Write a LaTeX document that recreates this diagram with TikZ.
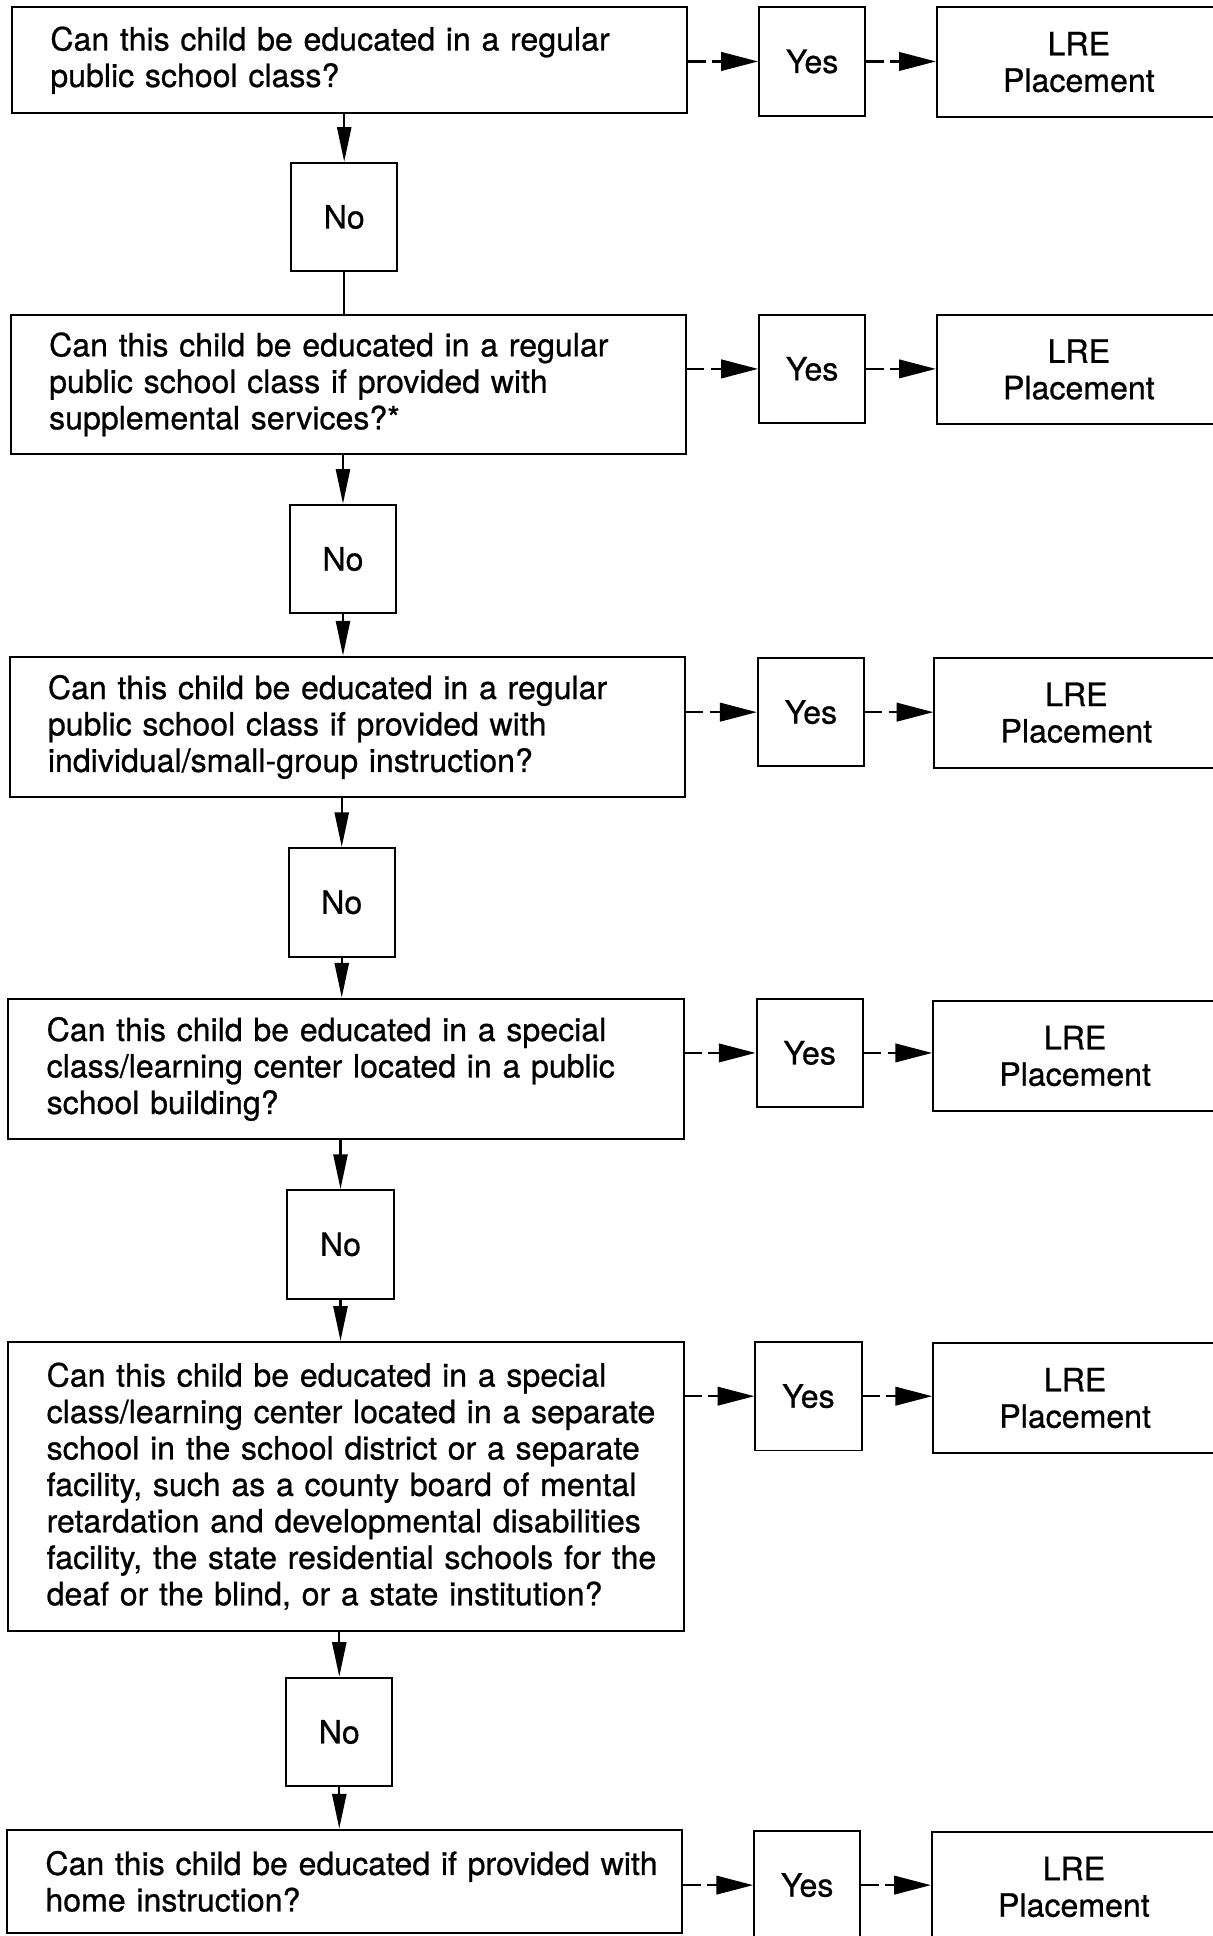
\documentclass[tikz,border=0pt]{standalone}
\usepackage{fontspec}
\setmainfont{TeX Gyre Heros}[FakeBold=0.7]
\usetikzlibrary{arrows.meta}
\begin{document}
\begin{tikzpicture}[x=0.02cm,y=-0.02cm,
  every node/.style={font=\fontsize{14.8}{16.8}\selectfont},
  box/.style={draw, line width=0.9pt, anchor=north west, inner sep=0pt},
  qbox/.style={box, align=left, text width=10.94cm},
  yesbox/.style={box, align=center, minimum width=1.72cm, minimum height=1.76cm},
  nobox/.style={box, align=center, minimum width=1.72cm, minimum height=1.76cm},
  lrebox/.style={box, align=center, minimum width=4.6cm, minimum height=1.78cm},
  varrow/.style={line width=1pt, -{Triangle[length=16pt,width=6.5pt]}},
  vline/.style={line width=1pt},
  harrow/.style={line width=1.2pt, dash pattern=on 8pt off 3pt, -{Triangle[length=17pt,width=8.5pt]}}
]
\useasboundingbox (0,0) rectangle (982,1568);

% Row 1
\node[qbox, minimum height=1.72cm] (q1) at (9,5) {\leftskip=0.62cm Can this child be educated in a regular\\public school class?\par};
\node[yesbox] (y1) at (614,5) {Yes};
\node[lrebox] (l1) at (758,5) {LRE\\Placement};
\node[nobox] (n1) at (235,131) {No};

% Row 2
\node[qbox, minimum height=2.26cm] (q2) at (8,254) {\leftskip=0.62cm Can this child be educated in a regular\\public school class if provided with\\supplemental services?*\par};
\node[yesbox] (y2) at (614,254) {Yes};
\node[lrebox] (l2) at (758,254) {LRE\\Placement};
\node[nobox] (n2) at (234,408) {No};

% Row 3
\node[qbox, minimum height=2.28cm] (q3) at (7,531) {\leftskip=0.62cm Can this child be educated in a regular\\public school class if provided with\\individual/small-group instruction?\par};
\node[yesbox] (y3) at (613,532) {Yes};
\node[lrebox] (l3) at (756,532) {LRE\\Placement};
\node[nobox] (n3) at (233,686) {No};

% Row 4
\node[qbox, minimum height=2.28cm] (q4) at (6,808) {\leftskip=0.62cm Can this child be educated in a special\\class/learning center located in a public\\school building?\par};
\node[yesbox] (y4) at (612,808) {Yes};
\node[lrebox] (l4) at (755,810) {LRE\\Placement};
\node[nobox] (n4) at (232,963) {No};

% Row 5
\node[qbox, minimum height=4.68cm] (q5) at (6,1086) {\leftskip=0.62cm Can this child be educated in a special\\class/learning center located in a separate\\school in the school district or a separate\\facility, such as a county board of mental\\retardation and developmental disabilities\\facility, the state residential schools for the\\deaf or the blind, or a state institution?\par};
\node[yesbox] (y5) at (611,1086) {Yes};
\node[lrebox] (l5) at (755,1087) {LRE\\Placement};
\node[nobox] (n5) at (231,1358) {No};

% Row 6
\node[qbox, minimum height=1.68cm] (q6) at (5,1481) {\leftskip=0.62cm Can this child be educated if provided with\\home instruction?\par};
\node[yesbox] (y6) at (610,1482) {Yes};
\node[lrebox] (l6) at (754,1483) {LRE\\Placement};

% Horizontal connectors
\foreach \i in {1,...,6}{
  \draw[harrow] (q\i.east |- y\i.west) -- (y\i.west);
  \draw[harrow] (y\i.east) -- (l\i.west |- y\i.east);
}

% Vertical connectors
\draw[varrow] (q1.south -| n1.north) -- (n1.north);
\draw[vline] (n1.south) -- (n1.south |- q2.north);
\draw[varrow] (q2.south -| n2.north) -- (n2.north);
\draw[varrow] (n2.south) -- (n2.south |- q3.north);
\draw[varrow] (q3.south -| n3.north) -- (n3.north);
\draw[varrow] (n3.south) -- (n3.south |- q4.north);
\draw[varrow] (q4.south -| n4.north) -- (n4.north);
\draw[varrow] (n4.south) -- (n4.south |- q5.north);
\draw[varrow] (q5.south -| n5.north) -- (n5.north);
\draw[varrow] (n5.south) -- (n5.south |- q6.north);
\end{tikzpicture}
\end{document}
